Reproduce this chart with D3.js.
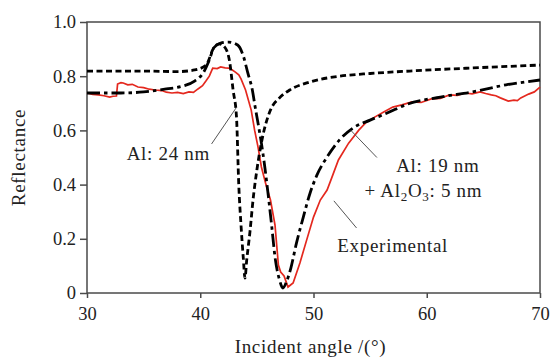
<!DOCTYPE html>
<html lang="en">
<meta charset="UTF-8">
<style>
    body{margin:0;background:#fff;}
    svg text{fill:#222;}
</style>
<body>
<div id="chart"></div>
<script src="https://cdn.jsdelivr.net/npm/d3@7"></script>
<script>
    // incident angle (deg) / reflectance
    var al24Angle = [30,35,38,39.5,40.5,41.2,41.7,42.2,42.6,42.9,43.2,43.4,43.6,43.8,43.95,44.1,44.4,44.66,45.0,45.45,46.2,47.0,47.9,49.7,52.3,55,58.5,63.8,70];
    var al24R     = [0.819,0.819,0.817,0.823,0.84,0.905,0.919,0.905,0.852,0.749,0.65,0.40,0.25,0.13,0.055,0.12,0.23,0.343,0.454,0.565,0.675,0.72,0.749,0.779,0.80,0.81,0.819,0.83,0.841];

    var al19Angle = [30,33,35,37,38.5,39.5,40.3,40.8,41.2,41.8,42.5,43.3,43.8,44.2,44.6,44.85,45.1,45.4,45.7,46.0,46.3,46.6,47.0,47.3,47.6,48.0,48.5,49.1,49.7,50.3,51.2,52.3,53.5,55,56.5,58.3,61.2,64,67,70];
    var al19R     = [0.738,0.738,0.742,0.753,0.764,0.782,0.815,0.86,0.905,0.922,0.926,0.915,0.875,0.812,0.749,0.686,0.627,0.553,0.465,0.362,0.251,0.133,0.048,0.018,0.04,0.092,0.185,0.28,0.369,0.435,0.502,0.565,0.609,0.638,0.664,0.697,0.723,0.742,0.768,0.786];

    var expAngle = [30,30.5,31,31.5,32,32.3,32.6,32.7,33.0,33.2,33.6,34.0,34.5,35.0,35.5,36,36.6,37.0,37.5,38.0,38.5,39,39.4,39.8,40.2,40.5,40.8,41.1,41.5,41.8,42.2,42.5,42.8,43.1,43.4,43.6,44.0,44.5,44.8,45.1,45.4,45.8,46.2,46.6,46.9,47.1,47.4,47.75,48.2,48.8,49.4,50.0,50.6,51.2,51.6,52.2,53.1,54,54.6,55.4,56.2,57,57.8,58.7,59.5,60.4,61.2,62,62.7,63.4,64.0,64.7,65.2,65.7,66.1,66.5,67.2,67.7,68.0,68.3,69.0,69.5,70];
    var expR     = [0.738,0.733,0.731,0.728,0.723,0.726,0.727,0.771,0.776,0.775,0.768,0.770,0.760,0.758,0.752,0.749,0.747,0.741,0.738,0.740,0.736,0.742,0.740,0.753,0.765,0.782,0.80,0.830,0.828,0.834,0.831,0.830,0.824,0.815,0.805,0.790,0.749,0.675,0.601,0.539,0.465,0.40,0.343,0.251,0.103,0.077,0.063,0.022,0.037,0.111,0.196,0.28,0.343,0.38,0.424,0.491,0.553,0.601,0.628,0.649,0.668,0.686,0.694,0.705,0.703,0.716,0.718,0.731,0.729,0.738,0.735,0.742,0.736,0.731,0.728,0.720,0.708,0.712,0.710,0.720,0.734,0.742,0.760];

    var xTicks = [30,40,50,60,70];
    var yTicks = [0,0.2,0.4,0.6,0.8,1.0];

    var width = 552, height = 358;
    var margin = {top:22, right:12, bottom:65, left:87};
    var font = '"Liberation Serif","Times New Roman",serif';

    var svg = d3.select("#chart").append("svg")
        .attr("width", width)
        .attr("height", height);

    var x = d3.scaleLinear().domain([30,70]).range([margin.left, width-margin.right]);
    var y = d3.scaleLinear().domain([0,1]).range([height-margin.bottom, margin.top]);

    var axisColor = "#4a4a4a";

    // frame
    svg.append("rect")
        .attr("x", x(30)).attr("y", y(1))
        .attr("width", x(70)-x(30)).attr("height", y(0)-y(1))
        .attr("fill","none").attr("stroke",axisColor).attr("stroke-width",1.5);

    var xAxis = svg.append("g")
        .attr("transform","translate(0,"+y(0)+")")
        .call(d3.axisBottom(x).tickValues(xTicks).tickSize(5).tickPadding(9));
    var yAxis = svg.append("g")
        .attr("transform","translate("+x(30)+",0)")
        .call(d3.axisLeft(y).tickValues(yTicks).tickSize(7).tickPadding(4)
            .tickFormat(function(d){ return d === 0 ? "0" : d3.format(".1f")(d); }));
    [xAxis,yAxis].forEach(function(g){
        g.attr("font-family", font).attr("font-size", 18.5);
        g.select(".domain").remove();
        g.selectAll("line").attr("stroke",axisColor).attr("stroke-width",1.5);
        g.selectAll("text").attr("fill","#222");
    });

    var line = d3.line()
        .x(function(d){ return x(d[0]); })
        .y(function(d){ return y(d[1]); });

    svg.append("path")
        .datum(d3.zip(expAngle, expR))
        .attr("d", line.curve(d3.curveLinear))
        .attr("fill","none").attr("stroke","#e4281e").attr("stroke-width",1.7);

    svg.append("path")
        .datum(d3.zip(al19Angle, al19R))
        .attr("d", line.curve(d3.curveMonotoneX))
        .attr("fill","none").attr("stroke","#000").attr("stroke-width",2.8)
        .attr("stroke-dasharray","13,4,3.5,4");

    svg.append("path")
        .datum(d3.zip(al24Angle, al24R))
        .attr("d", line.curve(d3.curveMonotoneX))
        .attr("fill","none").attr("stroke","#000").attr("stroke-width",2.8)
        .attr("stroke-dasharray","6,3.5");

    // leader lines + labels
    var leaders = [
        [[41.0,0.55],[43.2,0.685]],
        [[53.3,0.60],[55.6,0.50]],
        [[51.8,0.34],[53.8,0.24]]
    ];
    leaders.forEach(function(l){
        svg.append("line")
            .attr("x1",x(l[0][0])).attr("y1",y(l[0][1]))
            .attr("x2",x(l[1][0])).attr("y2",y(l[1][1]))
            .attr("stroke","#555").attr("stroke-width",1);
    });

    var labels = svg.append("g").attr("font-family", font).attr("font-size",19)
        .attr("letter-spacing", 0.7);
    labels.append("text").attr("x",x(33.5)).attr("y",y(0.49)).text("Al: 24 nm");
    labels.append("text").attr("x",x(57.3)).attr("y",y(0.448)).text("Al: 19 nm");
    var t = labels.append("text").attr("x",x(54.5)).attr("y",y(0.355));
    t.append("tspan").text("+ Al");
    t.append("tspan").attr("font-size",13).attr("dy",4).text("2");
    t.append("tspan").attr("dy",-4).text("O");
    t.append("tspan").attr("font-size",13).attr("dy",4).text("3");
    t.append("tspan").attr("dy",-4).text(": 5 nm");
    labels.append("text").attr("x",x(52.1)).attr("y",y(0.15)).text("Experimental");

    // axis titles
    labels.append("text")
        .attr("x",(x(30)+x(70))/2 - 3).attr("y",353)
        .attr("text-anchor","middle")
        .text("Incident angle /(°)");
    labels.append("text")
        .attr("transform","translate(25,"+((y(0)+y(1))/2)+") rotate(-90)")
        .attr("text-anchor","middle")
        .text("Reflectance");
</script>
</body>
</html>
